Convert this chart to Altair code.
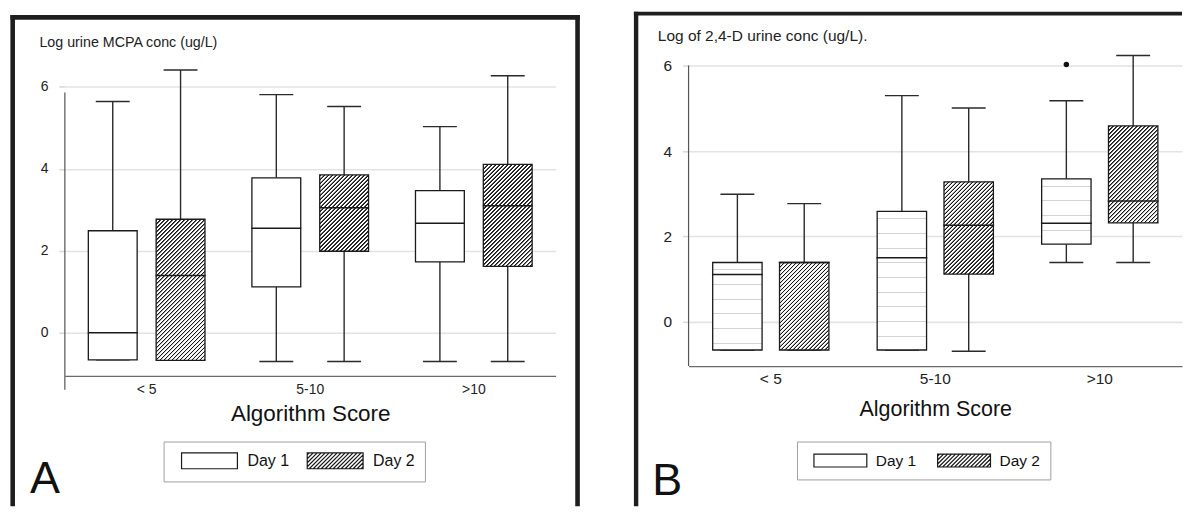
import altair as alt

FONT = "Liberation Sans"

# ---------------- data ----------------
groups = ["< 5", "5-10", ">10"]
days = ["Day 1", "Day 2"]
y_ticks = [0, 2, 4, 6]
x_title = "Algorithm Score"

# box order: (<5,D1), (<5,D2), (5-10,D1), (5-10,D2), (>10,D1), (>10,D2)
a_title = "Log urine MCPA conc (ug/L)"
a_lower = [-0.66, -0.67, -0.70, -0.70, -0.70, -0.70]
a_q1 = [-0.66, -0.67, 1.12, 1.99, 1.73, 1.62]
a_median = [0.00, 1.40, 2.55, 3.05, 2.67, 3.10]
a_q3 = [2.49, 2.77, 3.78, 3.85, 3.47, 4.11]
a_upper = [5.64, 6.41, 5.81, 5.52, 5.03, 6.27]

b_title = "Log of 2,4-D urine conc (ug/L)."
b_lower = [-0.66, -0.66, -0.66, -0.69, 1.39, 1.39]
b_q1 = [-0.66, -0.66, -0.66, 1.12, 1.82, 2.32]
b_median = [1.11, 1.39, 1.50, 2.26, 2.31, 2.83]
b_q3 = [1.39, 1.39, 2.59, 3.28, 3.35, 4.59]
b_upper = [2.99, 2.77, 5.30, 5.01, 5.18, 6.24]

b_out_group = [">10"]
b_out_day = ["Day 1"]
b_out_value = [6.03]


# ---------------- styling helpers ----------------
def hatch_gradient(w, h, period=4.0, ramp=0.6, core=0.9, dark="#161616", light="#ffffff"):
    """'/'-hatch drawn as a striped linear gradient (bounding-box units).
    t = (x + y) / (w + h): the stripe period is exactly `period` px along x+y,
    each stripe has soft (anti-aliased looking) edges."""
    r = h / w
    c = (1 + r) / (1 + r * r)
    L = w + h
    stops = []
    s = 0.0
    while s < L:
        pts = [(s, light), (s + ramp, dark), (s + ramp + core, dark),
               (s + 2 * ramp + core, light), (s + period, light)]
        for pos, col in pts:
            stops.append({"offset": round(min(1.0, pos / L), 6), "color": col})
        s += period
    return {"gradient": "linear", "x1": 0, "y1": 0, "x2": round(c, 6),
            "y2": round(c * r, 6), "stops": stops}


def lines_gradient(h, spacing=14.7, width=1.0, color="#d3d3d3"):
    stops = [{"offset": 0, "color": "#ffffff"}]
    y = 7.0
    while y < h - 3:
        a, b = y / h, (y + width) / h
        stops += [{"offset": round(a, 6), "color": "#ffffff"},
                  {"offset": round(a, 6), "color": color},
                  {"offset": round(b, 6), "color": color},
                  {"offset": round(b, 6), "color": "#ffffff"}]
        y += spacing
    stops.append({"offset": 1, "color": "#ffffff"})
    return {"gradient": "linear", "x1": 0, "y1": 0, "x2": 0, "y2": 1, "stops": stops}


def legend_path(shift, wu, hu, hatch, step=0.5):
    x0 = -1.0 + shift
    x1, y0, y1 = x0 + wu, -hu, hu
    p = f"M{x0},{y0}H{x1}V{y1}H{x0}Z"
    if hatch:
        c = x0 + y0 + step / 2
        while c < x1 + y1:
            ya, yb = max(y0, c - x1), min(y1, c - x0)
            if ya < yb:
                p += f"M{round(c - ya, 3)},{round(ya, 3)}L{round(c - yb, 3)},{round(yb, 3)}"
            c += step
    return p


def box_rows(lower, q1, med, q3, upper, unit, box_w, day1_lines):
    rows, i = [], 0
    for g in groups:
        for d in days:
            h = max(1.0, (q3[i] - q1[i]) * unit)
            if d == "Day 2":
                fill = hatch_gradient(box_w, h)
            elif day1_lines:
                fill = lines_gradient(h)
            else:
                fill = "#ffffff"
            rows.append({"group": g, "day": d, "lower": lower[i], "q1": q1[i],
                         "median": med[i], "q3": q3[i], "upper": upper[i], "fill": fill})
            i += 1
    return rows


one = alt.Data(values=[{"k": 1}])


def rule(x, x2, y, y2, w, c):
    return alt.Chart(one).mark_rule(color=c, strokeWidth=w).encode(
        x=alt.value(x), x2=alt.value(x2), y=alt.value(y), y2=alt.value(y2))


def panel(rows, outliers, p):
    data = alt.Data(values=rows)
    xs = alt.Scale(domain=groups, range=p["x_range"], paddingInner=0, paddingOuter=0)
    ys = alt.Scale(domain=p["y_domain"], range=p["y_range"], nice=False, zero=False)
    xo = alt.Scale(domain=days, paddingInner=p["pi"], paddingOuter=p["po"])
    x_axis = alt.Axis(title=x_title, orient="bottom", offset=p["x_off"], labelAngle=0,
                      labelFont=FONT, labelFontSize=p["xlab"], labelColor="#222",
                      labelPadding=p["xlab_pad"], ticks=False, tickSize=0,
                      domainColor="#6a6a6a", domainWidth=1.3, grid=False,
                      titleFont=FONT, titleFontSize=p["xtitle"], titleFontWeight="normal",
                      titleColor="#111", titleY=p["xtitle_y"], titleBaseline="alphabetic")
    y_axis = alt.Axis(title=p["y_title"], orient="left", offset=p["y_off"], values=y_ticks,
                      format="d", domain=False, grid=True, gridColor="#e3e3e3", gridWidth=1.6,
                      ticks=True, tickColor="#d9d9d9", tickSize=6, tickWidth=1.6,
                      labelFont=FONT, labelFontSize=p["ylab"], labelColor="#222",
                      labelPadding=11, titleAngle=0, titleAlign="left",
                      titleBaseline="alphabetic", titleX=p["ytitle_x"], titleY=p["ytitle_y"],
                      titleFont=FONT, titleFontSize=p["ytitle"], titleFontWeight="normal",
                      titleColor="#222")
    X = alt.X("group:N", scale=xs, axis=x_axis, sort=groups)
    XO = alt.XOffset("day:N", scale=xo, sort=days)

    def Y(f):
        return alt.Y(f, scale=ys, axis=y_axis)

    base = alt.Chart(data)
    wcol = "#2a2a2a"
    lower_w = base.mark_rule(color=wcol, strokeWidth=1.4).encode(
        x=X, xOffset=XO, y=Y("lower:Q"), y2="q1:Q")
    upper_w = base.mark_rule(color=wcol, strokeWidth=1.4).encode(
        x=X, xOffset=XO, y=Y("q3:Q"), y2="upper:Q")
    cap_lo = base.mark_tick(orient="horizontal", size=34, thickness=1.4, color=wcol,
                            opacity=1).encode(x=X, xOffset=XO, y=Y("lower:Q"))
    cap_hi = base.mark_tick(orient="horizontal", size=34, thickness=1.4, color=wcol,
                            opacity=1).encode(x=X, xOffset=XO, y=Y("upper:Q"))
    boxes = base.mark_bar(stroke="#1a1a1a", strokeWidth=1.3, opacity=1).encode(
        x=X, xOffset=XO, y=Y("q1:Q"), y2="q3:Q",
        fill=alt.Fill("fill:N", scale=None, legend=None))
    medians = base.mark_tick(orient="horizontal", size=p["med"], thickness=1.5,
                             color="#1a1a1a", opacity=1).encode(
        x=X, xOffset=XO, y=Y("median:Q"))
    leg = base.mark_point(opacity=0, filled=False, color="#1a1a1a").encode(
        x=X, xOffset=XO, y=Y("median:Q"),
        shape=alt.Shape("day:N", sort=days,
                        scale=alt.Scale(domain=days, range=[p["sym1"], p["sym2"]]),
                        legend=alt.Legend(title=None, orient="none", legendX=p["leg_x"],
                                          legendY=p["leg_y"], direction="horizontal",
                                          columns=2, columnPadding=p["leg_colpad"],
                                          padding=10, strokeColor="#a0a0a0",
                                          fillColor="#ffffff", symbolSize=256,
                                          symbolFillColor="#ffffff",
                                          symbolStrokeColor="#1a1a1a",
                                          symbolStrokeWidth=1.2, symbolOpacity=1,
                                          labelFont=FONT, labelFontSize=p["leg_font"],
                                          labelColor="#111", labelOffset=p["leg_laboff"])))
    layers = [lower_w, upper_w, cap_lo, cap_hi, boxes, medians, leg]
    if outliers:
        out = alt.Chart(alt.Data(values=outliers)).mark_circle(
            size=30, color="#111", opacity=1).encode(x=X, xOffset=XO, y=Y("value:Q"))
        layers.append(out)
    deco = [rule(*r) for r in p["rules"]]
    letter = alt.Chart(one).mark_text(text=p["letter"], font=FONT, fontSize=45,
                                      align="left", baseline="alphabetic",
                                      color="#111").encode(
        x=alt.value(p["letter_x"]), y=alt.value(p["letter_y"]))
    return alt.layer(*deco, *layers, letter).properties(width=p["w"], height=p["h"])


H = 496
A_UNIT = (365.2 - 54.8) / (6.5 + 1.05)
B_UNIT = (355.3 - 37.1) / (6.4 + 1.035)

pa = dict(w=580, h=H, x_range=[56, 548], y_domain=[-1.05, 6.5], y_range=[365.2, 54.8],
          pi=0.28, po=0.346, x_off=-(H - 365.2), y_off=-56, xlab=14, xlab_pad=7,
          xtitle=22.5, xtitle_y=44.8, y_title=a_title, ylab=14, ytitle=14.3,
          ytitle_x=-26, ytitle_y=34.7, med=50,
          sym1=legend_path(0.875, 7.0, 1.0, False), sym2=legend_path(0.875, 7.0, 1.0, True),
          leg_x=155, leg_y=431, leg_colpad=10, leg_font=16, leg_laboff=56,
          letter="A", letter_x=21, letter_y=483,
          rules=[(3.7, 3.7, 3.5, H, 4.6, "#1e1e1e"),
                 (1.4, 572.3, 5.8, 5.8, 4.6, "#1e1e1e"),
                 (570, 570, 3.5, H, 4.6, "#1e1e1e"),
                 (56, 56, 81, 379, 1.2, "#555555")])

pb = dict(w=556, h=H, x_range=[61.3, 556], y_domain=[-1.035, 6.4], y_range=[355.3, 37.1],
          pi=0.261, po=0.361, x_off=-(H - 355.3), y_off=-61.3, xlab=15.5, xlab_pad=6,
          xtitle=21.5, xtitle_y=49.2, y_title=b_title, ylab=15.5, ytitle=15.5,
          ytitle_x=-31.3, ytitle_y=29.3, med=51,
          sym1=legend_path(0.75, 6.625, 0.8125, False),
          sym2=legend_path(0.75, 6.625, 0.8125, True),
          leg_x=170, leg_y=431, leg_colpad=14, leg_font=15.5, leg_laboff=51,
          letter="B", letter_x=25, letter_y=485,
          rules=[(8.7, 8.7, 0, H, 4.4, "#1e1e1e"),
                 (6.5, 556, 2, 2, 4.0, "#1e1e1e"),
                 (61.3, 61.3, 54, 355.3, 1.2, "#555555")])

rows_a = box_rows(a_lower, a_q1, a_median, a_q3, a_upper, A_UNIT, 48.96, False)
rows_b = box_rows(b_lower, b_q1, b_median, b_q3, b_upper, B_UNIT, 49.5, True)
out_b = [{"group": g, "day": d, "value": v}
         for g, d, v in zip(b_out_group, b_out_day, b_out_value)]

chart = alt.hconcat(panel(rows_a, [], pa), panel(rows_b, out_b, pb),
                    spacing=40, bounds="flush").resolve_scale(
    x="independent", y="independent", xOffset="independent", shape="independent"
).resolve_legend(shape="independent").properties(padding=0).configure_view(strokeWidth=0)

chart.save("out.html", embed_options={"renderer": "svg", "actions": False})
